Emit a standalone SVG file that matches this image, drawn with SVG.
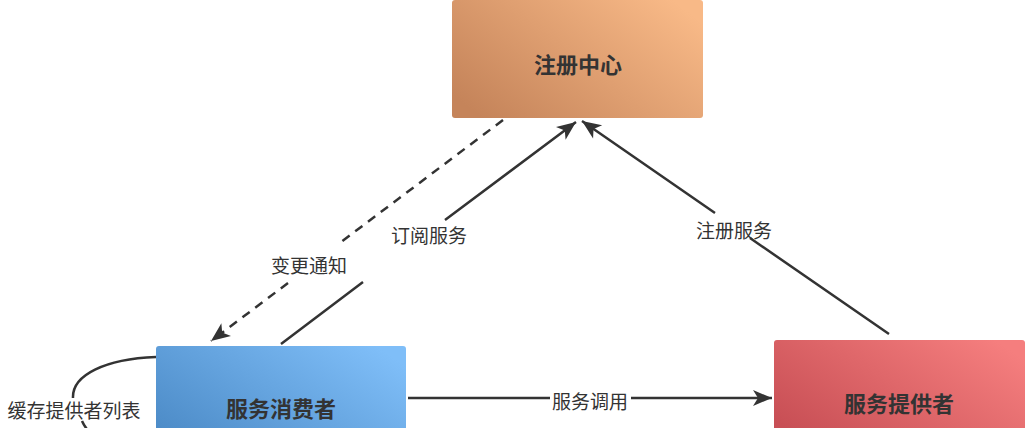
<svg xmlns="http://www.w3.org/2000/svg" width="1029" height="428" viewBox="0 0 1029 428">
<style>
.node-label{font-family:"Noto Sans CJK SC","Liberation Sans",sans-serif;font-size:22px;font-weight:bold;fill:#333;text-anchor:middle;dominant-baseline:central}
.edge-label{font-family:"Noto Sans CJK SC","Liberation Sans",sans-serif;font-size:19px;fill:#333;text-anchor:middle;dominant-baseline:central}
.edge{fill:none;stroke:#333;stroke-width:2.5}
.dashed{stroke-dasharray:9 7}
</style>
<defs>
<linearGradient id="gOrange" x1="0" y1="0.8" x2="1" y2="0.2">
<stop offset="0" stop-color="#c5845a"/><stop offset="1" stop-color="#f8b987"/>
</linearGradient>
<linearGradient id="gBlue" x1="0" y1="0.8" x2="1" y2="0.2">
<stop offset="0" stop-color="#4d8cc8"/><stop offset="1" stop-color="#7fbef8"/>
</linearGradient>
<linearGradient id="gRed" x1="0" y1="0.8" x2="1" y2="0.2">
<stop offset="0" stop-color="#c84f55"/><stop offset="1" stop-color="#f57e7e"/>
</linearGradient>
<marker id="arrow" markerUnits="userSpaceOnUse" markerWidth="22" markerHeight="18" viewBox="-20 -9 22 18" refX="0" refY="0" orient="auto">
<path d="M0,0 L-19,-8 L-14,0 L-19,8 Z" fill="#333"/>
</marker>
</defs>
<g id="connectors">
<path class="edge dashed" d="M503,120 L341,242 M288,283 L211,341" marker-end="url(#arrow)"/>
<path class="edge" d="M281,344 L363,282 M445,220 L576,122" marker-end="url(#arrow)"/>
<path class="edge" d="M889,334 L750,238 M715,213 L582,121" marker-end="url(#arrow)"/>
<path class="edge" d="M408,398 L550,398 M631,398 L772,398" marker-end="url(#arrow)"/>
<path class="edge" d="M156,357 C105,359 72,375 73,398 M82,421 C86,430 94,438 104,446"/>
<text class="edge-label" x="429" y="234">订阅服务</text>
<text class="edge-label" x="309" y="264">变更通知</text>
<text class="edge-label" x="734" y="229">注册服务</text>
<text class="edge-label" x="590" y="400">服务调用</text>
<text class="edge-label" x="74" y="409">缓存提供者列表</text>
</g>
<g id="registry">
<rect x="452" y="0" width="251" height="118" rx="3" fill="url(#gOrange)"/>
<text class="node-label" x="578" y="63">注册中心</text>
</g>
<g id="consumer">
<rect x="156" y="346" width="250" height="100" rx="3" fill="url(#gBlue)"/>
<text class="node-label" x="281" y="407">服务消费者</text>
</g>
<g id="provider">
<rect x="774" y="340" width="251" height="100" rx="3" fill="url(#gRed)"/>
<text class="node-label" x="899" y="402">服务提供者</text>
</g>
</svg>
